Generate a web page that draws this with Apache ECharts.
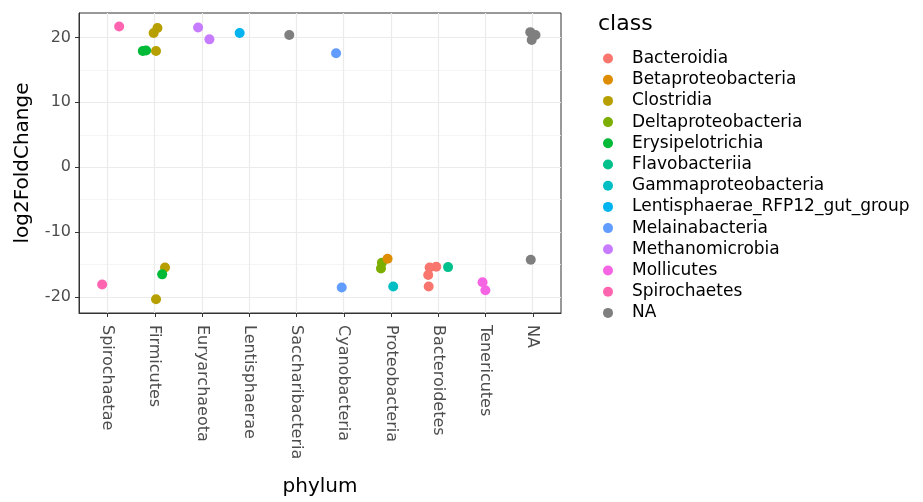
<!DOCTYPE html>
<html><head><meta charset="utf-8">
<script src="https://cdn.jsdelivr.net/npm/echarts@6/dist/echarts.min.js"></script>
<style>html,body{margin:0;padding:0;background:#fff}#c{width:923px;height:502px}</style>
</head><body><div id="c"></div>
<script>
// Categories (x axis, in plotted order)
const phyla = ['Spirochaetae','Firmicutes','Euryarchaeota','Lentisphaerae','Saccharibacteria','Cyanobacteria','Proteobacteria','Bacteroidetes','Tenericutes','NA'];
// Legend classes and their colours
const classes = ['Bacteroidia','Betaproteobacteria','Clostridia','Deltaproteobacteria','Erysipelotrichia','Flavobacteriia','Gammaproteobacteria','Lentisphaerae_RFP12_gut_group','Melainabacteria','Methanomicrobia','Mollicutes','Spirochaetes','NA'];
const classColors = ['#F8766D','#DE8C00','#B79F00','#7CAE00','#00BA38','#00C08B','#00BFC4','#00B4F0','#619CFF','#C77CFF','#F564E3','#FF64B0','#7F7F7F'];
// Points: phylum, class, horizontal jitter, log2FoldChange
const ptPhylum = ['Spirochaetae','Spirochaetae','Firmicutes','Firmicutes','Firmicutes','Firmicutes','Firmicutes','Firmicutes','Firmicutes','Firmicutes','Euryarchaeota','Euryarchaeota','Lentisphaerae','Saccharibacteria','Cyanobacteria','Cyanobacteria','Proteobacteria','Proteobacteria','Proteobacteria','Proteobacteria','Bacteroidetes','Bacteroidetes','Bacteroidetes','Bacteroidetes','Bacteroidetes','Tenericutes','Tenericutes','NA','NA','NA','NA'];
const ptClass = ['Spirochaetes','Spirochaetes','Clostridia','Clostridia','Clostridia','Erysipelotrichia','Erysipelotrichia','Clostridia','Clostridia','Erysipelotrichia','Methanomicrobia','Methanomicrobia','Lentisphaerae_RFP12_gut_group','NA','Melainabacteria','Melainabacteria','Deltaproteobacteria','Deltaproteobacteria','Betaproteobacteria','Gammaproteobacteria','Bacteroidia','Bacteroidia','Bacteroidia','Bacteroidia','Flavobacteriia','Mollicutes','Mollicutes','NA','NA','NA','NA'];
const ptJitter = [0.25,-0.11,0.06,-0.02,0.03,-0.25,-0.18,0.22,0.03,0.16,-0.08,0.16,-0.20,-0.15,-0.16,-0.04,-0.21,-0.19,-0.07,0.05,-0.04,-0.18,-0.21,-0.20,0.21,-0.06,0.00,-0.05,0.06,-0.02,-0.04];
const ptLog2FC = [21.68,-18.07,21.45,20.66,17.90,17.90,17.98,-15.43,-20.32,-16.50,21.53,19.69,20.66,20.35,17.55,-18.53,-15.6,-14.7,-14.1,-18.38,-15.32,-15.43,-16.6,-18.38,-15.38,-17.72,-18.94,20.8,20.35,19.6,-14.25];
// Tick labels
const yTicks = [-20,-10,0,10,20];
const yMinorTicks = [-15,-5,5,15];
const xMin = -0.6, xMax = phyla.length - 0.4, yMin = -22.45, yMax = 23.75;

const FONT = 'DejaVu Sans';
const series = classes.map((cl, ci) => ({
  name: cl,
  type: 'scatter',
  symbol: 'circle',
  symbolSize: 10,
  z: cl === 'Betaproteobacteria' ? 3 : 2,
  itemStyle: { color: classColors[ci], opacity: 1 },
  data: ptClass.map((c, i) => c === cl ? [phyla.indexOf(ptPhylum[i]) + ptJitter[i], ptLog2FC[i]] : null).filter(d => d)
}));

const chart = echarts.init(document.getElementById('c'), null, { renderer: 'canvas' });
chart.setOption({
  animation: false,
  backgroundColor: '#fff',
  textStyle: { fontFamily: FONT },
  color: classColors,
  title: { text: 'class', left: 593, top: 8, textStyle: { fontSize: 22, fontWeight: 'normal', color: '#000', fontFamily: FONT } },
  legend: {
    orient: 'vertical', left: 598, top: 45, itemWidth: 38, itemHeight: 10, itemGap: 4.2,
    icon: 'circle', data: classes,
    textStyle: { fontSize: 17, lineHeight: 17, color: '#000', fontFamily: FONT }
  },
  grid: { left: 79, top: 13, right: 362, bottom: 187, show: true, borderColor: '#333333', borderWidth: 1, backgroundColor: 'transparent' },
  xAxis: {
    type: 'value', min: xMin, max: xMax,
    axisLine: { show: true, onZero: false, lineStyle: { color: '#333333', width: 1 } },
    axisTick: { show: false, customValues: phyla.map((_, i) => i) },
    axisLabel: { customValues: phyla.map((_, i) => i), formatter: v => phyla[Math.round(v)], rotate: -90, color: '#4D4D4D', fontSize: 16, fontFamily: FONT, margin: 12 },
    splitLine: { show: true, lineStyle: { color: '#EBEBEB', width: 1.2 } },
    name: 'phylum', nameLocation: 'middle', nameGap: 164,
    nameTextStyle: { fontSize: 20, color: '#000', fontFamily: FONT }
  },
  yAxis: [{
    type: 'value', min: yMin, max: yMax,
    axisLine: { show: true, onZero: false, lineStyle: { color: '#333333', width: 1 } },
    axisTick: { show: false, customValues: yTicks },
    axisLabel: { customValues: yTicks, color: '#4D4D4D', fontSize: 16, fontFamily: FONT, margin: 8 },
    splitLine: { show: true, lineStyle: { color: '#EBEBEB', width: 1.2 } },
    name: 'log2FoldChange', nameLocation: 'middle', nameGap: 46,
    nameTextStyle: { fontSize: 20, color: '#000', fontFamily: FONT }
  }, {
    type: 'value', min: yMin, max: yMax, position: 'right', offset: 0,
    axisLine: { show: false, onZero: false },
    axisTick: { show: false, customValues: yMinorTicks },
    axisLabel: { show: false, customValues: yMinorTicks },
    splitLine: { show: true, lineStyle: { color: '#F2F2F2', width: 0.8 } }
  }],
  series: series
});

// Outward axis ticks, placed through the chart's own scales
const tickLen = 4;
const ticks = [];
phyla.forEach((_, i) => {
  const p = chart.convertToPixel({ xAxisIndex: 0, yAxisIndex: 0 }, [i, yMin]);
  const x = Math.round(p[0]) + 0.5;
  ticks.push({ type: 'line', silent: true, z: 10, shape: { x1: x, y1: p[1], x2: x, y2: p[1] + tickLen }, style: { stroke: '#333333', lineWidth: 1 } });
});
yTicks.forEach(v => {
  const p = chart.convertToPixel({ xAxisIndex: 0, yAxisIndex: 0 }, [xMin, v]);
  const y = Math.round(p[1]) + 0.5;
  ticks.push({ type: 'line', silent: true, z: 10, shape: { x1: p[0] - tickLen, y1: y, x2: p[0], y2: y }, style: { stroke: '#333333', lineWidth: 1 } });
});
chart.setOption({ graphic: ticks });
</script></body></html>
